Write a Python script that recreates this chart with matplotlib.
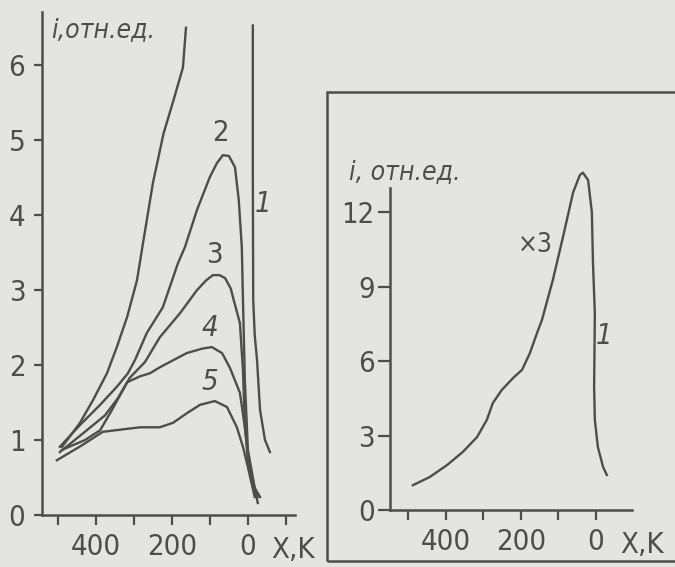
"""
Two hand-drawn style panels: intensity i (rel. units) vs X, K, curves 1-5 and inset curve 1 (x3).
"""
import matplotlib.pyplot as plt
import matplotlib.patches as mpatches

plt.rcParams['font.family'] = ['DejaVu Sans']
plt.rcParams['font.stretch'] = 'condensed'

PAPER = '#e4e4e2'
INK = '#4d4d4d'

# ---- left panel data (X, K ; i, rel. units) ----
c1_rise_x = [489, 442, 408, 371, 345, 318, 292, 276, 250, 222, 196, 171, 163]
c1_rise_y = [0.91, 1.23, 1.53, 1.89, 2.24, 2.64, 3.13, 3.63, 4.43, 5.09, 5.53, 5.97, 6.5]
c1_fall_x = [-13, -13, -14, -18, -24, -32, -45, -58]
c1_fall_y = [6.53, 4.5, 2.87, 2.4, 2.07, 1.4, 1.0, 0.84]

c2_x = [495, 442, 389, 345, 316, 297, 266, 224, 184, 166, 134, 100, 82, 66, 50, 34, 24, 16, 13, 8, 0, -18, -32]
c2_y = [0.91, 1.2, 1.47, 1.71, 1.89, 2.07, 2.43, 2.77, 3.36, 3.57, 4.07, 4.51, 4.69, 4.8, 4.79, 4.64, 4.2, 3.57, 2.87, 1.8, 0.87, 0.36, 0.24]

c3_x = [489, 429, 389, 358, 332, 311, 271, 232, 179, 134, 110, 92, 75, 60, 45, 39, 21, 13, 8, 0, -13, -26]
c3_y = [0.87, 1.0, 1.13, 1.4, 1.64, 1.83, 2.04, 2.37, 2.69, 3.0, 3.13, 3.2, 3.2, 3.16, 3.02, 2.9, 2.56, 1.93, 1.2, 0.73, 0.47, 0.16]

c4_x = [495, 429, 376, 342, 318, 284, 258, 232, 161, 120, 95, 68, 47, 21, 8, 0, -10, -26]
c4_y = [0.84, 1.11, 1.33, 1.56, 1.77, 1.85, 1.89, 1.97, 2.16, 2.22, 2.24, 2.16, 1.96, 1.63, 1.17, 0.83, 0.47, 0.24]

c5_x = [503, 440, 382, 284, 232, 197, 160, 126, 87, 55, 29, 13, 0, -18]
c5_y = [0.73, 0.92, 1.11, 1.17, 1.17, 1.23, 1.36, 1.47, 1.52, 1.44, 1.17, 0.91, 0.64, 0.24]

# ---- inset data: curve 1, scaled x3 ----
r1_x = [488, 443, 397, 355, 317, 291, 275, 251, 221, 197, 176, 157, 144, 115, 88, 61, 43, 35, 21, 11, 8, 3, 5, 3, -5, -19, -29]
r1_y = [1.0, 1.33, 1.81, 2.34, 2.94, 3.63, 4.31, 4.84, 5.32, 5.65, 6.33, 7.14, 7.66, 9.27, 11.0, 12.8, 13.5, 13.6, 13.3, 12.0, 9.96, 7.9, 4.96, 3.63, 2.54, 1.73, 1.41]

left_xticks = [500, 400, 300, 200, 100, 0, -100]
left_xlabels = ['', '400', '', '200', '', '0', '']
left_yticks = [0, 1, 2, 3, 4, 5, 6]
right_xticks = [500, 400, 300, 200, 100, 0]
right_xlabels = ['', '400', '', '200', '', '0']
right_yticks = [0, 3, 6, 9, 12]

fig = plt.figure(figsize=(6.75, 5.67), dpi=100)
fig.patch.set_facecolor(PAPER)


def style_axes(ax):
    ax.set_facecolor('none')
    for s in ('top', 'right'):
        ax.spines[s].set_visible(False)
    for s in ('left', 'bottom'):
        ax.spines[s].set_color(INK)
        ax.spines[s].set_linewidth(1.8)
    ax.tick_params(colors=INK, width=1.6, labelsize=21)


# ---- left panel ----
ax = fig.add_axes([42 / 675, 52 / 567, 253 / 675, 503 / 567])
ax.set_xlim(542, -124)
ax.set_ylim(0, 6.71)
ax.set_xticks(left_xticks, left_xlabels)
ax.set_yticks(left_yticks)
ax.tick_params(axis='y', length=6, pad=6)
ax.tick_params(axis='x', length=7, pad=6)
style_axes(ax)

lw = 1.7
ax.plot(c1_rise_x, c1_rise_y, color=INK, lw=lw)
ax.plot(c1_fall_x, c1_fall_y, color=INK, lw=lw)
for xs, ys in [(c2_x, c2_y), (c3_x, c3_y), (c4_x, c4_y), (c5_x, c5_y)]:
    ax.plot(xs, ys, color=INK, lw=lw)

lbl = dict(color=INK, fontsize=21, ha='center', va='center')
ax.text(72, 5.1, '2', **lbl)
ax.text(87, 3.47, '3', **lbl)
ax.text(100, 2.5, '4', style='italic', **lbl)
ax.text(100, 1.77, '5', style='italic', **lbl)
ax.text(-40, 4.15, '1', style='italic', **lbl)
ax.text(518, 6.47, 'i,отн.ед.', color=INK, fontsize=19, style='italic',
        ha='left', va='center')
ax.text(-118, -0.47, 'X,K', clip_on=False, **lbl)

# ---- inset box ----
fig.patches.append(mpatches.Rectangle((327 / 675, 6 / 567), 0.6, 469 / 567,
                                      transform=fig.transFigure, fill=False,
                                      edgecolor=INK, linewidth=1.8))

# ---- right panel ----
ax2 = fig.add_axes([390 / 675, 57 / 567, 242 / 675, 322 / 567])
ax2.set_xlim(549, -96)
ax2.set_ylim(0, 12.98)
ax2.set_xticks(right_xticks, right_xlabels)
ax2.set_yticks(right_yticks)
ax2.tick_params(axis='y', length=9, pad=2)
ax2.tick_params(axis='x', length=7, pad=6)
style_axes(ax2)

ax2.plot(r1_x, r1_y, color=INK, lw=lw, clip_on=False)
ax2.text(163, 10.7, '×3', color=INK, fontsize=19, ha='center', va='center')
ax2.text(-22, 7.0, '1', style='italic', **lbl)
ax2.text(658, 13.63, 'i, отн.ед.', color=INK, fontsize=19, style='italic',
         ha='left', va='center', clip_on=False)
ax2.text(-123, -1.41, 'X,K', clip_on=False, **lbl)

plt.savefig('out.png', dpi=100, facecolor=PAPER)
plt.close()
